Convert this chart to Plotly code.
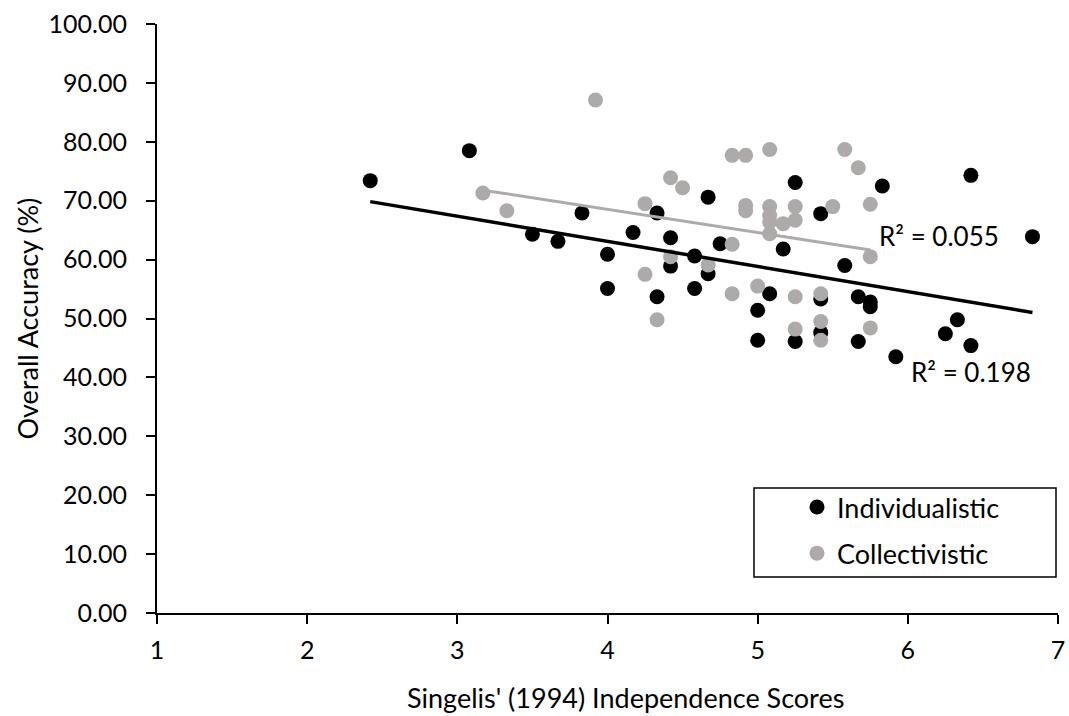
import numpy as np
import plotly.graph_objects as go

# ---- data ----
ind_x = [2.42, 3.08, 3.50, 3.67, 3.83, 4.33, 4.17, 4.42, 4.00, 4.00, 4.33, 4.42, 4.58, 4.58,
         4.67, 4.67, 4.75, 5.00, 5.00, 5.08, 5.17, 5.25, 5.25, 5.42, 5.42, 5.42, 5.58, 5.67,
         5.67, 5.75, 5.75, 5.83, 5.92, 6.25, 6.33, 6.42, 6.42, 6.83]
ind_y = [73.4, 78.5, 64.3, 63.1, 67.9, 67.9, 64.6, 63.7, 60.9, 55.1, 53.7, 58.9, 60.6, 55.1,
         70.6, 57.6, 62.7, 51.4, 46.3, 54.2, 61.8, 73.1, 46.1, 67.8, 53.3, 47.6, 59.0, 53.7,
         46.1, 52.8, 52.0, 72.5, 43.5, 47.4, 49.8, 74.3, 45.4, 63.9]

col_x = [3.17, 3.33, 3.92, 4.83, 4.92, 5.08, 5.58, 5.67, 4.42, 4.50, 4.25, 4.92, 4.92, 5.08,
         5.08, 5.08, 5.08, 5.17, 5.25, 5.25, 5.50, 5.75, 5.75, 4.83, 4.42, 4.67, 4.25, 4.83,
         5.00, 5.25, 5.42, 4.33, 5.42, 5.25, 5.75, 5.42]
col_y = [71.3, 68.3, 87.1, 77.7, 77.7, 78.7, 78.7, 75.6, 73.9, 72.2, 69.5, 69.2, 68.3, 69.0,
         67.5, 66.4, 64.4, 66.1, 69.0, 66.7, 69.0, 69.4, 60.5, 62.6, 60.5, 59.1, 57.5, 54.2,
         55.5, 53.7, 54.2, 49.8, 49.5, 48.2, 48.4, 46.3]

series_names = ["Individualistic", "Collectivistic"]
r2_labels = ["R² = 0.198", "R² = 0.055"]
x_title = "Singelis' (1994) Independence Scores"
y_title = "Overall Accuracy (%)"
x_ticks = [1, 2, 3, 4, 5, 6, 7]
y_ticks = [0, 10, 20, 30, 40, 50, 60, 70, 80, 90, 100]

BLACK = "#000000"
GRAY = "#AEAAAA"
FONT = "Lato"
FS_TICK = 25
FS_TEXT = 27
FS_R2 = 26


def trend(xs, ys):
    xs = np.asarray(xs, float)
    ys = np.asarray(ys, float)
    m, b = np.polyfit(xs, ys, 1)
    xx = np.array([xs.min(), xs.max()])
    return xx, m * xx + b


fig = go.Figure()
fig.add_trace(go.Scatter(x=ind_x, y=ind_y, mode="markers", name=series_names[0],
                         legendgroup="a",
                         marker=dict(color=BLACK, size=15, line=dict(width=0))))
fig.add_trace(go.Scatter(x=col_x, y=col_y, mode="markers", name=series_names[1],
                         legendgroup="b",
                         marker=dict(color=GRAY, size=15, line=dict(width=0))))

tx, ty = trend(ind_x, ind_y)
fig.add_trace(go.Scatter(x=tx, y=ty, mode="lines", showlegend=False,
                         line=dict(color=BLACK, width=3.5), hoverinfo="skip"))
tx2, ty2 = trend(col_x, col_y)
fig.add_trace(go.Scatter(x=tx2, y=ty2, mode="lines", showlegend=False,
                         line=dict(color=GRAY, width=3), hoverinfo="skip"))

fig.add_annotation(x=5.795, y=63.97, text=r2_labels[1], showarrow=False,
                   xanchor="left", yanchor="middle",
                   font=dict(family=FONT, size=FS_R2, color="#000"))
fig.add_annotation(x=6.005, y=40.93, text=r2_labels[0], showarrow=False,
                   xanchor="left", yanchor="middle",
                   font=dict(family=FONT, size=FS_R2, color="#000"))

# layout geometry (pixels)
W, H = 1069, 716
L, R, T, B = 157, 11, 24, 103
pw, ph = W - L - R, H - T - B


def px2paper_x(px):
    return (px - L) / pw


def px2paper_y(py):
    return (H - B - py) / ph


# axis titles
fig.add_annotation(xref="paper", yref="paper", x=px2paper_x(625.7), y=px2paper_y(715),
                   text=x_title, showarrow=False, xanchor="center", yanchor="bottom",
                   borderpad=0,
                   font=dict(family=FONT, size=FS_TEXT, color="#000"))
fig.add_annotation(xref="paper", yref="paper", x=px2paper_x(27), y=px2paper_y(318.5),
                   text=y_title, showarrow=False, textangle=-90,
                   xanchor="center", yanchor="middle",
                   font=dict(family=FONT, size=FS_TEXT, color="#000"))

# legend frame
fig.add_shape(type="rect", xref="paper", yref="paper",
              x0=px2paper_x(754), x1=px2paper_x(1056),
              y0=px2paper_y(577), y1=px2paper_y(488),
              line=dict(color="#000", width=1.5), fillcolor="white", layer="below")

fig.update_layout(
    width=W, height=H,
    margin=dict(l=L, r=R, t=T, b=B, pad=0, autoexpand=False),
    paper_bgcolor="white", plot_bgcolor="white",
    font=dict(family=FONT, size=FS_TICK, color="#000"),
    showlegend=True,
    legend=dict(x=px2paper_x(797), y=px2paper_y(483), xanchor="left", yanchor="top",
                bgcolor="rgba(0,0,0,0)", borderwidth=0, tracegroupgap=8,
                font=dict(family=FONT, size=FS_TEXT, color="#000")),
    xaxis=dict(range=[1, 7], tickvals=x_ticks, ticktext=[str(v) for v in x_ticks],
               showline=True, linecolor="#000", linewidth=2, ticks="outside",
               ticklen=9, tickwidth=2, tickcolor="#000", showgrid=False, zeroline=False,
               automargin=False,
               ticklabelstandoff=5, tickfont=dict(family=FONT, size=FS_TICK, color="#000")),
    yaxis=dict(range=[0, 100], tickvals=y_ticks, tickformat=".2f",
               showline=True, linecolor="#000", linewidth=2, ticks="outside",
               ticklen=9, tickwidth=2, tickcolor="#000", showgrid=False, zeroline=False,
               automargin=False,
               ticklabelstandoff=14, tickfont=dict(family=FONT, size=FS_TICK, color="#000")),
)

fig.write_html("out.html", config={"displayModeBar": False},
               post_script="document.body.style.margin='0';")
